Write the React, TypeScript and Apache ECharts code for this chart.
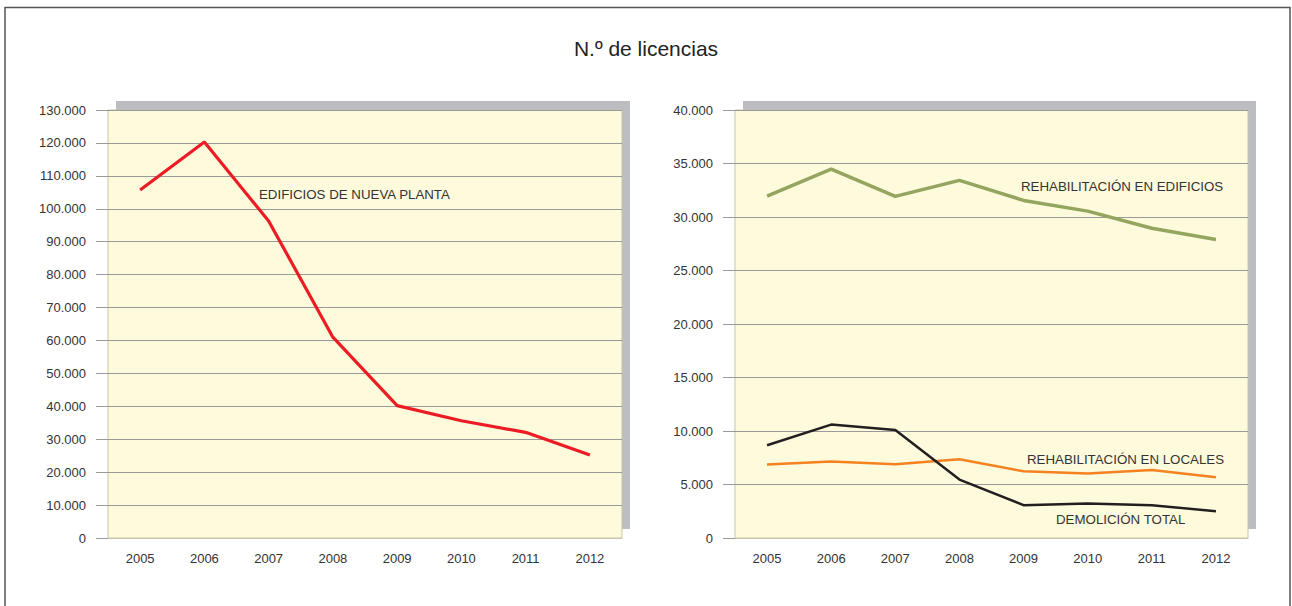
import React, { useEffect, useRef } from "react";
import * as echarts from "echarts";

const years = ["2005", "2006", "2007", "2008", "2009", "2010", "2011", "2012"];
const nuevaPlanta = [105700, 120300, 96300, 61000, 40200, 35600, 32100, 25200];
const rehabEdificios = [31950, 34480, 31930, 33420, 31550, 30550, 28950, 27900];
const rehabLocales = [6860, 7140, 6900, 7360, 6230, 6030, 6360, 5680];
const demolicion = [8670, 10600, 10090, 5460, 3070, 3220, 3070, 2500];

const fmt = (v: number) => (v === 0 ? "0" : v.toLocaleString("de-DE"));

const axisFont = "'Liberation Sans', Arial, Helvetica, sans-serif";
const textFont = "'Liberation Sans', Arial, Helvetica, sans-serif";

export default function App() {
  const ref = useRef<HTMLDivElement>(null);
  useEffect(() => {
    if (!ref.current) return;
    const chart = echarts.init(ref.current, undefined, { renderer: "svg" });
    const plotFill = "#fefadc";
    const plotBorder = "#c9c5a6";
    const gridLine = "#9a9a9a";
    const makeX = (gridIndex: number) => ({
      type: "category",
      gridIndex,
      data: years,
      boundaryGap: true,
      axisLine: { show: true, lineStyle: { color: plotBorder, width: 1 } },
      axisTick: { show: false },
      axisLabel: { margin: 14, fontSize: 13, color: "#333", fontFamily: axisFont },
    });
    const makeY = (gridIndex: number, max: number, interval: number) => ({
      type: "value",
      gridIndex,
      min: 0,
      max,
      interval,
      axisLine: { show: false },
      axisTick: { show: true, length: 12, lineStyle: { color: gridLine } },
      axisLabel: { margin: 22, fontSize: 13, color: "#333", fontFamily: axisFont, formatter: fmt },
      splitLine: { show: true, lineStyle: { color: gridLine, width: 1 } },
    });
    const label = (x: number, y: number, text: string) => ({
      type: "text",
      z: 10,
      x,
      y,
      style: { text, fontSize: 13.3, fill: "#333", fontFamily: textFont, verticalAlign: "middle" },
    });
    chart.setOption({
      animation: false,
      backgroundColor: "#ffffff",
      title: {
        text: "N.º de licencias",
        left: "center",
        top: 33,
        textStyle: { fontSize: 21, fontWeight: "normal", color: "#222", fontFamily: textFont },
      },
      graphic: [
        { type: "rect", z: -10, shape: { x: 5, y: 7.5, width: 1285, height: 640 }, style: { fill: "#fff", stroke: "#555", lineWidth: 1.5 } },
        { type: "rect", z: -5, shape: { x: 116, y: 101, width: 514, height: 428 }, style: { fill: "#bcbdc0" } },
        { type: "rect", z: -5, shape: { x: 743, y: 101, width: 513, height: 428 }, style: { fill: "#bcbdc0" } },
        label(259, 194, "EDIFICIOS DE NUEVA PLANTA"),
        label(1021, 186, "REHABILITACIÓN EN EDIFICIOS"),
        label(1027, 459, "REHABILITACIÓN EN LOCALES"),
        label(1056, 519, "DEMOLICIÓN TOTAL"),
      ],
      grid: [
        { left: 108, top: 110, right: 670, bottom: 68, show: true, backgroundColor: plotFill, borderColor: plotBorder, borderWidth: 1 },
        { left: 735, top: 110, right: 44, bottom: 68, show: true, backgroundColor: plotFill, borderColor: plotBorder, borderWidth: 1 },
      ],
      xAxis: [makeX(0), makeX(1)],
      yAxis: [makeY(0, 130000, 10000), makeY(1, 40000, 5000)],
      series: [
        {
          name: "Edificios de nueva planta",
          type: "line",
          xAxisIndex: 0,
          yAxisIndex: 0,
          data: nuevaPlanta,
          symbol: "none",
          lineStyle: { color: "#ec1c24", width: 3.2 },
        },
        {
          name: "Rehabilitación en edificios",
          type: "line",
          xAxisIndex: 1,
          yAxisIndex: 1,
          data: rehabEdificios,
          symbol: "none",
          lineStyle: { color: "#93a55f", width: 3.5 },
        },
        {
          name: "Rehabilitación en locales",
          type: "line",
          xAxisIndex: 1,
          yAxisIndex: 1,
          data: rehabLocales,
          symbol: "none",
          lineStyle: { color: "#f58220", width: 2.5 },
        },
        {
          name: "Demolición total",
          type: "line",
          xAxisIndex: 1,
          yAxisIndex: 1,
          data: demolicion,
          symbol: "none",
          lineStyle: { color: "#231f20", width: 2.5 },
        },
      ],
    });
    return () => chart.dispose();
  }, []);
  return <div ref={ref} style={{ position: "fixed", left: 0, top: 0, width: 1292, height: 606 }} />;
}
